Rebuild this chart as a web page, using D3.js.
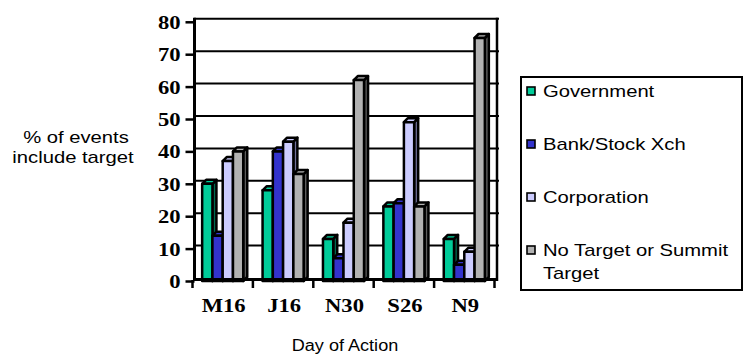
<!DOCTYPE html>
<html><head><meta charset="utf-8">
<script src="https://cdn.jsdelivr.net/npm/d3@7"></script>
<style>html,body{margin:0;padding:0;background:#fff;}svg{display:block;}</style>
</head><body>
<script>
const categories = ["M16","J16","N30","S26","N9"];
const seriesNames = ["Government","Bank/Stock Xch","Corporation","No Target or Summit Target"];
const government = [30,28,13,23,13];
const bankStock = [14,40,7,24,5];
const corporation = [37,43,18,49,9];
const noTarget = [40,33,62,23,75];
const yTicks = [0,10,20,30,40,50,60,70,80];
const faceColors = ["#00CC99","#3333CC","#CCCCFF","#B2B2B2"];
const sideColors = ["#006B50","#1A1A70","#70709A","#5E5E5E"];
const seriesValues = [government, bankStock, corporation, noTarget];

const W = 743, H = 360, SX = 1.19, D = 4;
const svg = d3.select("body").append("svg").attr("width", W).attr("height", H);

const x0 = d3.scaleBand().domain(categories).range([192.5, 494.5]).paddingInner(0.32).paddingOuter(0.16);
const x1 = d3.scaleBand().domain(seriesNames).range([0, x0.bandwidth()]);
const y = d3.scaleLinear().domain([0, 80]).range([281, 21.8]);

// back-wall gridlines
const g = svg.append("g");
g.selectAll("line.grid").data(yTicks.slice(1)).join("line")
  .attr("x1", 194).attr("x2", 499)
  .attr("y1", d => y(d) - 3).attr("y2", d => y(d) - 3)
  .attr("stroke", "#000").attr("stroke-width", 2);
// right wall
g.append("line").attr("x1", 497).attr("x2", 497).attr("y1", y(80) - 4).attr("y2", y(0))
  .attr("stroke", "#000").attr("stroke-width", 2.5);

// bars
const bars = svg.append("g").attr("stroke", "#000").attr("stroke-width", 2.5).attr("stroke-linejoin", "round");
categories.forEach((c, ci) => {
  seriesNames.forEach((s, si) => {
    const v = seriesValues[si][ci];
    const x = x0(c) + x1(s), w = x1.bandwidth(), yt = y(v), yb = y(0);
    bars.append("polygon")
      .attr("points", [[x + w, yt], [x + w + D, yt - D], [x + w + D, yb - D], [x + w, yb]].join(" "))
      .attr("fill", sideColors[si]);
    bars.append("polygon")
      .attr("points", [[x, yt], [x + D, yt - D], [x + w + D, yt - D], [x + w, yt]].join(" "))
      .attr("fill", faceColors[si]);
    bars.append("rect").attr("x", x).attr("y", yt).attr("width", w).attr("height", yb - yt)
      .attr("fill", faceColors[si]);
  });
});

// floor line
svg.append("line").attr("x1", 193).attr("x2", 498).attr("y1", 279.5).attr("y2", 279.5)
  .attr("stroke", "#000").attr("stroke-width", 3);

// y axis
const yAxis = svg.append("g").attr("transform", "translate(194.5,0)")
  .call(d3.axisLeft(y).tickValues(yTicks).tickSize(9).tickPadding(0));
yAxis.select(".domain").attr("stroke-width", 3).attr("d", `M0,${y(80) - 4}V${y(0)}`);
yAxis.selectAll(".tick line").attr("stroke-width", 2.5);
yAxis.selectAll(".tick text")
  .attr("x", 0).attr("dy", null).attr("y", 0)
  .attr("transform", "translate(-14,6.5) scale(" + SX + ",1)")
  .attr("font-family", "'Liberation Serif','Times New Roman',serif")
  .attr("font-weight", "bold").attr("font-size", 19).attr("fill", "#000");

// x axis (category boundary ticks)
const boundaries = categories.map(c => x0(c) - x0.step() * x0.paddingOuter()).concat([x0.range()[1]]);
svg.append("g").selectAll("line").data(boundaries).join("line")
  .attr("x1", d => d).attr("x2", d => d).attr("y1", 280).attr("y2", 288)
  .attr("stroke", "#000").attr("stroke-width", 2.5);
svg.append("g").selectAll("text").data(categories).join("text")
  .attr("transform", d => `translate(${x0(d) + x0.bandwidth() / 2 + 1},312) scale(${SX},1)`)
  .attr("text-anchor", "middle")
  .attr("font-family", "'Liberation Serif','Times New Roman',serif")
  .attr("font-weight", "bold").attr("font-size", 19).text(d => d);

// axis titles
const sans = "'Liberation Sans',Arial,sans-serif";
svg.append("text").attr("transform", `translate(345,351) scale(1.13,1)`).attr("text-anchor", "middle")
  .attr("font-family", sans).attr("font-size", 16).text("Day of Action");
svg.append("text").attr("transform", `translate(76,143) scale(${SX},1)`).attr("text-anchor", "middle")
  .attr("font-family", sans).attr("font-size", 17).text("% of events");
svg.append("text").attr("transform", `translate(73,163) scale(${SX},1)`).attr("text-anchor", "middle")
  .attr("font-family", sans).attr("font-size", 17).text("include target");

// legend
const leg = svg.append("g");
leg.append("rect").attr("x", 521).attr("y", 77).attr("width", 221).attr("height", 213)
  .attr("fill", "#fff").attr("stroke", "#000").attr("stroke-width", 2);
const legY = [91, 144, 197, 250];
const legendLines = [["Government"], ["Bank/Stock Xch"], ["Corporation"], ["No Target or Summit", "Target"]];
seriesNames.forEach((s, i) => {
  leg.append("rect").attr("x", 527).attr("y", legY[i] - 4).attr("width", 8).attr("height", 8)
    .attr("fill", faceColors[i]).attr("stroke", "#000").attr("stroke-width", 1.6);
  legendLines[i].forEach((t, j) => {
    leg.append("text").attr("transform", `translate(543,${legY[i] + 6 + j * 23}) scale(${SX},1)`)
      .attr("font-family", sans).attr("font-size", 17).text(t);
  });
});
</script>
</body></html>
